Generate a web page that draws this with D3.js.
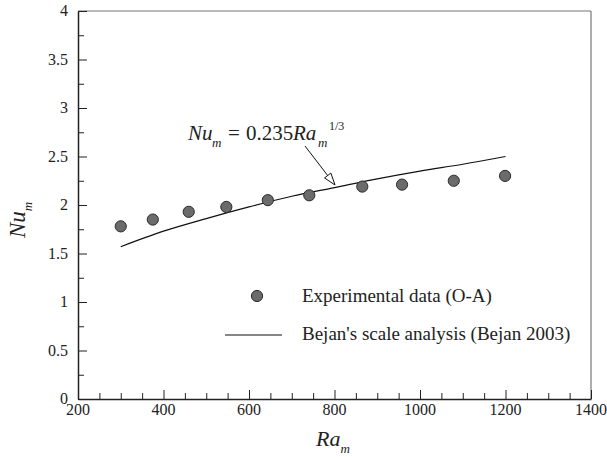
<!DOCTYPE html>
<html>
<head>
<meta charset="utf-8">
<script src="https://cdn.jsdelivr.net/npm/d3@7"></script>
<style>
  body { margin: 0; background: #fff; }
  svg text { font-family: "Liberation Serif", "Times New Roman", serif; fill: #222; }
</style>
</head>
<body>
<div id="chart"></div>
<script>
// experimental data (O-A)
const expRa = [300, 375, 459, 547, 644, 741, 865, 958, 1079, 1199];
const expNu = [1.78, 1.85, 1.93, 1.98, 2.05, 2.10, 2.19, 2.21, 2.25, 2.30];

// Bejan's scale analysis curve
const bejanRa = [300, 400, 500, 600, 700, 800, 900, 1000, 1100, 1200];
const bejanNu = [1.57, 1.73, 1.86, 1.98, 2.09, 2.18, 2.27, 2.35, 2.42, 2.50];

const xTicks = [200, 400, 600, 800, 1000, 1200, 1400];
const yTicks = [0, 0.5, 1, 1.5, 2, 2.5, 3, 3.5, 4];

const width = 607, height = 457;
const margin = {top: 11, right: 16, bottom: 58, left: 78};

const svg = d3.select("#chart").append("svg")
    .attr("width", width)
    .attr("height", height);

const x = d3.scaleLinear().domain([200, 1400]).range([margin.left, width - margin.right]);
const y = d3.scaleLinear().domain([0, 4]).range([height - margin.bottom, margin.top]);

// frame: top and right in grey
svg.append("line")
    .attr("x1", x(200)).attr("x2", x(1400))
    .attr("y1", y(4)).attr("y2", y(4))
    .style("stroke", "#777").style("stroke-width", 1.2);
svg.append("line")
    .attr("x1", x(1400)).attr("x2", x(1400))
    .attr("y1", y(4)).attr("y2", y(0))
    .style("stroke", "#777").style("stroke-width", 1.2);

// bottom axis, ticks pointing inward
const xAxis = svg.append("g")
    .attr("transform", "translate(0," + y(0) + ")")
    .call(d3.axisBottom(x).tickValues(d3.range(200, 1401, 50)).tickSize(0).tickFormat(""));
xAxis.select(".domain").style("stroke", "#222").style("stroke-width", 1.5);
xAxis.selectAll(".tick line")
    .attr("y2", d => (d % 200 === 0 ? -9 : -6))
    .style("stroke", "#222");
xTicks.forEach(v => {
    svg.append("text")
        .attr("x", x(v)).attr("y", y(0) + 16)
        .attr("text-anchor", "middle")
        .style("font-size", "16px")
        .text(v);
});

// left axis
const yAxis = svg.append("g")
    .attr("transform", "translate(" + x(200) + ",0)")
    .call(d3.axisLeft(y).tickValues(d3.range(0, 4.01, 0.25)).tickSize(0).tickFormat(""));
yAxis.select(".domain").style("stroke", "#222").style("stroke-width", 1.5);
yAxis.selectAll(".tick line")
    .attr("x2", d => (Math.abs(d * 2 - Math.round(d * 2)) < 1e-6 ? 9 : 6))
    .style("stroke", "#222");
yTicks.forEach(v => {
    svg.append("text")
        .attr("x", x(200) - 10).attr("y", y(v) + 5)
        .attr("text-anchor", "end")
        .style("font-size", "16px")
        .text(v);
});

// axis titles
const xt = svg.append("text")
    .attr("x", 316).attr("y", 446)
    .style("font-size", "22px").style("font-style", "italic");
xt.append("tspan").text("Ra");
xt.append("tspan").attr("dy", 7).style("font-size", "13px").text("m");

const yt = svg.append("text")
    .attr("transform", "translate(25,238) rotate(-90)")
    .style("font-size", "23px").style("font-style", "italic");
yt.append("tspan").text("Nu");
yt.append("tspan").attr("dy", 7).style("font-size", "13px").text("m");

// Bejan curve
const bejan = bejanRa.map((r, i) => ({ra: r, nu: bejanNu[i]}));
svg.append("path")
    .datum(bejan)
    .attr("d", d3.line().x(d => x(d.ra)).y(d => y(d.nu)).curve(d3.curveMonotoneX))
    .style("fill", "none")
    .style("stroke", "#111")
    .style("stroke-width", 1.2);

// experimental points
const exp = expRa.map((r, i) => ({ra: r, nu: expNu[i]}));
svg.selectAll("circle.exp")
    .data(exp)
    .enter()
    .append("circle")
    .attr("class", "exp")
    .attr("cx", d => x(d.ra))
    .attr("cy", d => y(d.nu))
    .attr("r", 5.6)
    .style("fill", "#6b6b6b")
    .style("stroke", "#2a2a2a")
    .style("stroke-width", 1);

// formula annotation, pieces placed like an equation editor would
const ann = svg.append("text")
    .attr("y", 139.5)
    .style("font-size", "21px");
ann.append("tspan").attr("x", 188).style("font-style", "italic").text("Nu");
ann.append("tspan").attr("x", 212).attr("y", 147).style("font-size", "13px").style("font-style", "italic").text("m");
ann.append("tspan").attr("x", 228).attr("y", 139.5).text("=");
ann.append("tspan").attr("x", 246).text("0.235");
ann.append("tspan").attr("x", 293).style("font-style", "italic").text("Ra");
ann.append("tspan").attr("x", 318).attr("y", 147).style("font-size", "13px").style("font-style", "italic").text("m");
ann.append("tspan").attr("x", 329).attr("y", 130).style("font-size", "12px").text("1/3");

// arrow with open head
const ax1 = 305, ay1 = 146, ax2 = 335, ay2 = 185;
const ang = Math.atan2(ay2 - ay1, ax2 - ax1);
const hl = 12, hw = 4;
const bx = ax2 - hl * Math.cos(ang), by = ay2 - hl * Math.sin(ang);
svg.append("line")
    .attr("x1", ax1).attr("y1", ay1).attr("x2", bx).attr("y2", by)
    .style("stroke", "#111").style("stroke-width", 1);
svg.append("path")
    .attr("d", "M" + ax2 + "," + ay2 +
        "L" + (bx + hw * Math.sin(ang)) + "," + (by - hw * Math.cos(ang)) +
        "L" + (bx - hw * Math.sin(ang)) + "," + (by + hw * Math.cos(ang)) + "Z")
    .style("fill", "#fff").style("stroke", "#111").style("stroke-width", 1);

// legend
svg.append("circle")
    .attr("cx", 257).attr("cy", 296).attr("r", 5.6)
    .style("fill", "#6b6b6b").style("stroke", "#2a2a2a");
svg.append("text")
    .attr("x", 302).attr("y", 302)
    .style("font-size", "19px")
    .text("Experimental data (O-A)");
svg.append("line")
    .attr("x1", 225).attr("x2", 282).attr("y1", 335).attr("y2", 335)
    .style("stroke", "#111").style("stroke-width", 1.2);
svg.append("text")
    .attr("x", 302).attr("y", 340)
    .style("font-size", "19px")
    .text("Bejan's scale analysis (Bejan 2003)");
</script>
</body>
</html>
